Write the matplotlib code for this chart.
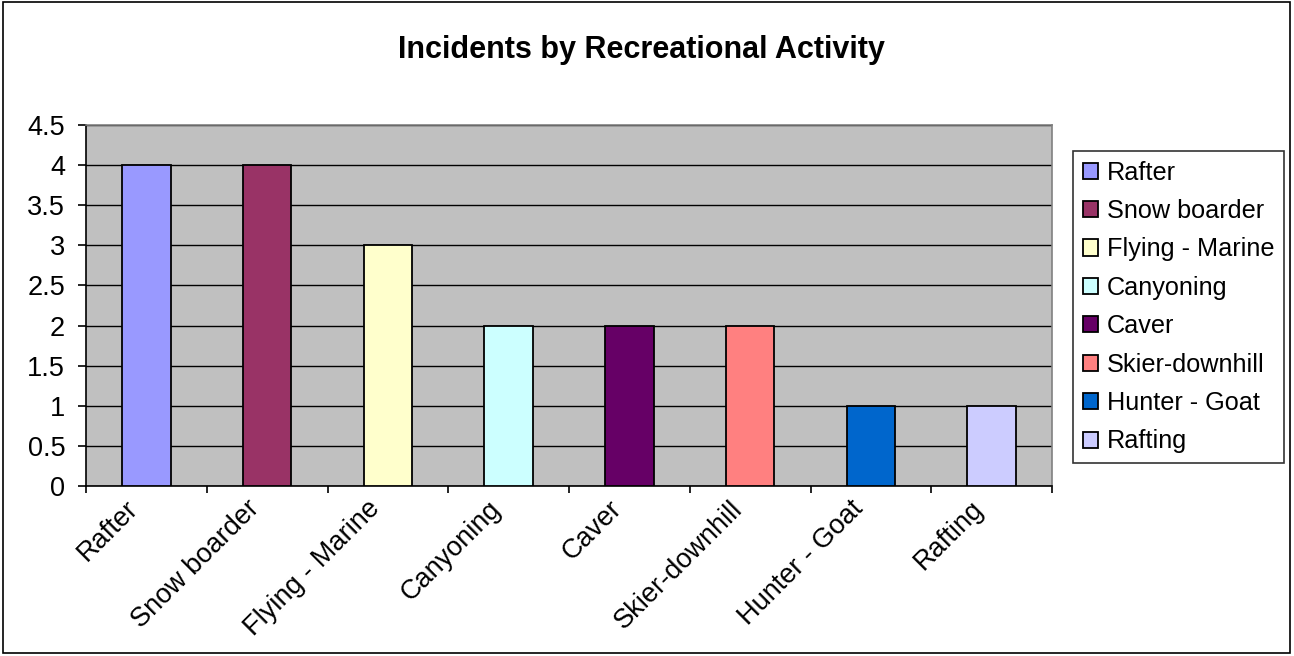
import matplotlib
matplotlib.use('Agg')
import matplotlib.pyplot as plt
from matplotlib.patches import Rectangle
from matplotlib.transforms import ScaledTranslation

# ── Data ────────────────────────────────────────────────────────────────
activities = ['Rafter', 'Snow boarder', 'Flying - Marine', 'Canyoning',
              'Caver', 'Skier-downhill', 'Hunter - Goat', 'Rafting']
incidents  = [4, 4, 3, 2, 2, 2, 1, 1]
colors     = ['#9999FF', '#993366', '#FFFFCC', '#CCFFFF',
              '#660066', '#FF8080', '#0066CC', '#CCCCFF']
y_ticks    = [0, 0.5, 1, 1.5, 2, 2.5, 3, 3.5, 4, 4.5]

plt.rcParams['font.family'] = ['Liberation Sans', 'DejaVu Sans']

fig = plt.figure(figsize=(12.94, 6.56), dpi=100)
fig.patch.set_facecolor('white')
fig.patches.append(Rectangle((0.002, 0.004), 0.995, 0.993, transform=fig.transFigure,
                             fill=False, edgecolor='black', linewidth=1.2))

ax = fig.add_axes([86/1294, 1-486/656, (1052-86)/1294, (486-125)/656])
ax.set_facecolor('#C0C0C0')

positions = range(len(activities))
for i, (name, val, col) in enumerate(zip(activities, incidents, colors)):
    ax.bar(i, val, width=0.4, color=col, edgecolor='black', linewidth=1.3,
           label=name, zorder=3)

ax.set_xlim(-0.5, len(activities) - 0.5)
ax.set_ylim(0, 4.5)
ax.set_yticks(y_ticks)
ax.set_yticklabels([f'{t:g}' for t in y_ticks], fontsize=19.5)
ax.yaxis.grid(True, color='black', linewidth=1, zorder=1)
ax.set_axisbelow(True)

# category boundaries as major ticks, labels at centres
ax.set_xticks([i - 0.5 for i in range(len(activities) + 1)])
ax.set_xticklabels([])
ax.set_xticks(list(positions), minor=True)
ax.set_xticklabels(activities, minor=True, rotation=45, ha='right',
                   rotation_mode='anchor', fontsize=19.5)
ax.tick_params(axis='x', which='minor', length=0, pad=7)
ax.tick_params(axis='x', which='major', length=5, width=1.2, direction='out')
ax.tick_params(axis='y', length=6, width=1.2, direction='out', pad=9)
shift = ScaledTranslation(-0.21, 0, fig.dpi_scale_trans)
for lab in ax.get_xticklabels(minor=True):
    lab.set_transform(lab.get_transform() + shift)

for side in ['top', 'right']:
    ax.spines[side].set_color('#808080')
    ax.spines[side].set_linewidth(1.2)
for side in ['left', 'bottom']:
    ax.spines[side].set_color('black')
    ax.spines[side].set_linewidth(1.2)

fig.text(0.496, 1-50/656, 'Incidents by Recreational Activity', ha='center',
         va='center', fontsize=22, fontweight='bold')

leg = fig.legend(loc='upper left', bbox_to_anchor=(1073/1294, 1-151/656),
                 fontsize=18.2, frameon=True, fancybox=False, borderpad=0.38,
                 handlelength=0.6, handleheight=0.6, handletextpad=0.35,
                 labelspacing=0.57, borderaxespad=0)
leg.get_frame().set_edgecolor('black')
leg.get_frame().set_linewidth(1.2)

plt.savefig('out.png', dpi=100)
plt.close()
